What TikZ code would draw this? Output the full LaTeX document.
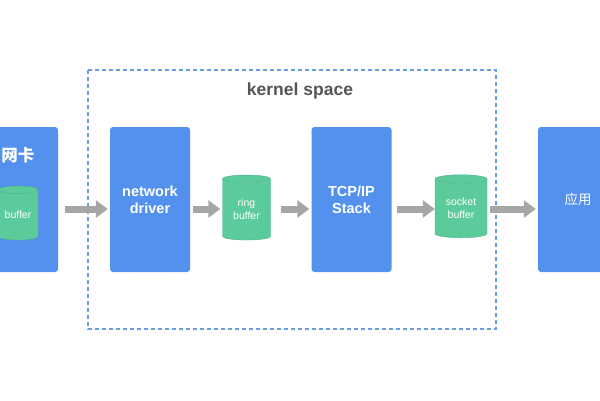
\documentclass[tikz,border=0pt]{standalone}
\usepackage{fontspec}
\setmainfont{Liberation Sans}
\newfontfamily\zhfont{Noto Sans CJK SC}
\usetikzlibrary{shapes.geometric,arrows.meta}

\definecolor{boxblue}{HTML}{5490EE}
\definecolor{bufgreen}{HTML}{5CCB9C}
\definecolor{bufedge}{HTML}{4DB287}
\definecolor{arrowgray}{HTML}{A6A6A6}
\definecolor{dashblue}{HTML}{6A9EE2}
\definecolor{labelgray}{HTML}{555555}

\tikzset{
  layerbox/.style={fill=boxblue, rounded corners=3pt, minimum width=80pt,
    minimum height=145pt, inner sep=0pt, text=white, align=center,
    font=\bfseries\fontsize{14.5}{17}\selectfont},
  bufcyl/.style={cylinder, shape border rotate=90, aspect=0.28, draw=bufedge,
    line width=0.4pt, cylinder uses custom fill, cylinder body fill=bufgreen,
    cylinder end fill=bufgreen, inner sep=0pt, text=white, align=center,
    font=\fontsize{10.5}{13}\selectfont},
  flow/.style={arrowgray, line width=7pt, -{Triangle[length=12pt,width=17pt]},
    shorten <=3pt, shorten >=2pt},
}

\begin{document}
\begin{tikzpicture}[x=1pt, y=-1pt]

\clip (0,0) rectangle (600,400);
\fill[white] (0,0) rectangle (600,400);

\coordinate (N) at (18, 199.5);
\coordinate (D) at (150, 199.5);
\coordinate (T) at (351.5, 199.5);
\coordinate (U) at (578, 199.5);

\draw[dashblue, line width=1.3pt, dash pattern=on 4pt off 3pt] (88,70) rectangle (496,329);
\node (kernel) at (300, 91) [text=labelgray, font=\bfseries\fontsize{17.5}{20}\selectfont] {kernel space};

\node (nic) at (N) [layerbox] {};
\node (nictext) at (18, 155) [text=white, font=\zhfont\bfseries\fontsize{16.5}{18}\selectfont] {网卡};
\node (driver) at (D) [layerbox] {network\\driver};
\node (stack) at (T) [layerbox] {TCP/IP\\Stack};
\node (app) at (U) [layerbox, font=\zhfont\fontsize{13.5}{16}\selectfont] {应用};

\node (nicbuf) at (18, 215) [bufcyl, minimum width=40pt, minimum height=54pt] {buffer};
\node (ringbuf) at (246.5, 209.5) [bufcyl, minimum width=48pt, minimum height=65pt] {ring\\buffer};
\node (sockbuf) at (461, 208.5) [bufcyl, minimum width=52pt, minimum height=63pt] {socket\\buffer};

\draw[flow, shorten <=7pt] (nic.east |- 0,209) -- (driver.west |- 0,209);
\draw[flow] (driver.east |- 0,209) -- (ringbuf.west |- 0,209);
\draw[flow, shorten <=10pt] (ringbuf.east |- 0,209) -- (stack.west |- 0,209);
\draw[flow, shorten <=5pt, shorten >=0pt] (stack.east |- 0,209) -- (sockbuf.west |- 0,209);
\draw[flow] (sockbuf.east |- 0,209) -- (app.west |- 0,209);

\end{tikzpicture}
\end{document}
